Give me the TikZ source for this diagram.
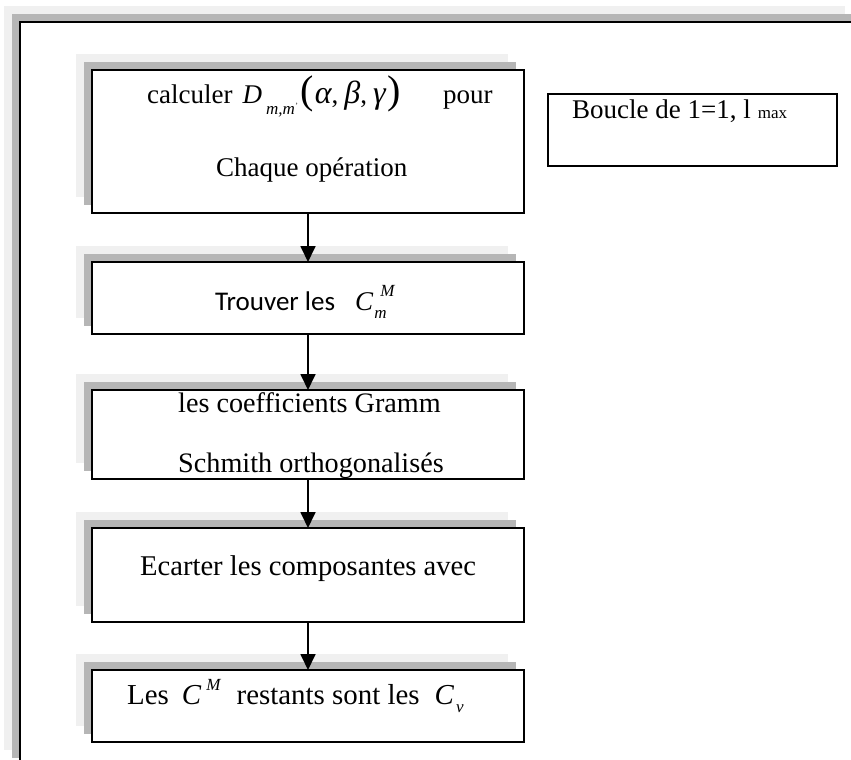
\documentclass[tikz,border=0pt]{standalone}
\usepackage{fontspec}
\setmainfont{Liberation Serif}
\newfontfamily\calibfont{Carlito}
\usepackage{tikz}
\usetikzlibrary{arrows.meta, positioning, shadows}
\definecolor{ShadeLight}{RGB}{240,240,240}
\definecolor{ShadeDark}{RGB}{182,182,182}
\newcommand{\lowtxt}[2][11pt]{\raisebox{-#1}{\fontsize{17}{17}\selectfont\itshape #2}}
\newcommand{\hightxt}[2][14pt]{\raisebox{#1}{\fontsize{17}{17}\selectfont\itshape #2}}
\newcommand{\bigparen}[1]{{\fontsize{40}{40}\selectfont #1}}
\newcommand{\greek}[1]{{\fontsize{32}{32}\selectfont\itshape #1}}

\begin{document}
\begin{tikzpicture}[x=1pt, y=-1pt, >=Stealth,
    stepbox/.style={draw, line width=1.8pt, fill=white, minimum width=432pt,
      inner sep=0pt, outer sep=0pt,
      general shadow={fill=ShadeLight, shadow xshift=-16pt, shadow yshift=16pt},
      general shadow={fill=ShadeDark, shadow xshift=-8pt, shadow yshift=8pt}},
    loopbox/.style={draw, line width=1.8pt, fill=white, minimum width=289pt,
      minimum height=72pt, inner sep=0pt, outer sep=0pt},
    txt/.style={anchor=base west, inner sep=0pt, font=\fontsize{27}{32}\selectfont},
    bigtxt/.style={txt, font=\fontsize{28.6}{34}\selectfont},
    flow/.style={-{Triangle[length=16pt, width=15pt]}, line width=1.8pt}]
    \useasboundingbox (0,0) rectangle (851,760);
    \clip (0,0) rectangle (851,760);
    % Page frame
    \fill [ShadeLight] (4,6) rectangle (845,750);
    \fill [ShadeDark] (12,14) rectangle (853,758);
    \draw [line width=1.8pt, fill=white] (20,22) rectangle (861,766);
    % Boxes
    \node [stepbox, minimum height=143pt] (calc) at (308,141.5) {};
    \node [stepbox, minimum height=72pt, below=49pt of calc] (find) {};
    \node [stepbox, minimum height=89pt, below=56pt of find] (gram) {};
    \node [stepbox, minimum height=94pt, below=49pt of gram] (ecart) {};
    \node [stepbox, minimum height=72pt, below=48pt of ecart] (rest) {};
    \node [loopbox] (loop) at (692.5,130) {};
    % Texts
    \node [txt] (calcA) at (147,103) {calculer\hspace{10pt}\textit{D}\hspace{4pt}\lowtxt{m,m\raisebox{6pt}{\fontsize{8}{8}\selectfont'}}\hspace{3pt}\bigparen{(}\kern1pt\greek{α},\hspace{6pt}\greek{β},\hspace{6pt}\greek{γ}\kern2pt\bigparen{)}\hspace{42pt}pour};
    \node [txt] (calcB) at (216,176) {Chaque opération};
    \node [txt] (findA) at (215,310) {\calibfont Trouver les\hspace{20pt}\rmfamily\textit{C}\kern1pt\rlap{\kern6pt\hightxt{M}}\lowtxt[8pt]{m}};
    \node [bigtxt, font=\fontsize{28.2}{34}\selectfont] (gramA) at (178,412) {les coefficients Gramm};
    \node [bigtxt, font=\fontsize{28.2}{34}\selectfont] (gramB) at (178,472) {Schmith orthogonalisés};
    \node [bigtxt] (ecartA) at (140,575) {Ecarter les composantes avec};
    \node [bigtxt, font=\fontsize{28.9}{34}\selectfont] (restA) at (127,704) {Les\hspace{13pt}\textit{C}\kern5pt\hightxt{M}\hspace{16pt}restants sont les\hspace{15pt}\textit{C}\kern2pt\lowtxt[8pt]{v}};
    \node [txt] (loopA) at (572,118) {Boucle de 1=1, l\hspace{7pt}{\fontsize{17}{17}\selectfont max}};
    % Arrows
    \draw [flow] (calc) -- (find);
    \draw [flow] (find) -- (gram);
    \draw [flow] (gram) -- (ecart);
    \draw [flow] (ecart) -- (rest);
\end{tikzpicture}
\end{document}
